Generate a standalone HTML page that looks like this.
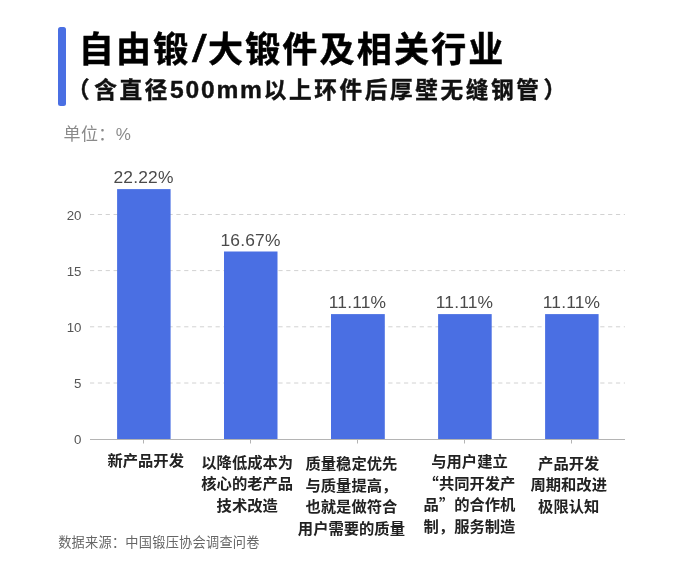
<!DOCTYPE html>
<html lang="zh-CN">
<head>
<meta charset="utf-8">
<title>自由锻/大锻件及相关行业</title>
<style>
html,body{margin:0;padding:0;background:#fff;}
body{width:690px;height:568px;position:relative;overflow:hidden;
  font-family:"Liberation Sans","Noto Sans CJK SC",sans-serif;color:#000;}
.abs{position:absolute;white-space:nowrap;line-height:1;}
#accent{position:absolute;left:58.2px;top:27.4px;width:7.8px;height:78.4px;border-radius:2.5px;background:#4a6fe3;}
#title{left:78.8px;top:32px;font-size:35px;font-weight:700;-webkit-text-stroke:0.5px #000;letter-spacing:2.2px;color:#000;}
.sl{display:inline-block;font-family:"Liberation Sans",sans-serif;font-weight:400;font-size:39px;line-height:0;letter-spacing:0;transform:scaleX(1.35);margin:0 2.9px 0 3.8px;}
.cq{font-family:"Noto Sans CJK SC",sans-serif;line-height:0;}
#sub{left:69px;top:77.5px;font-size:22.6px;font-weight:700;-webkit-text-stroke:0.4px #111;letter-spacing:2.65px;color:#111;}
#sub .lat{font-size:24.6px;letter-spacing:1.8px;position:relative;top:0.5px;}
#unit{left:63.5px;top:126px;font-size:17px;letter-spacing:0.4px;color:#8a8a8a;}
#src{left:58.2px;top:536px;font-size:13.2px;letter-spacing:0.25px;color:#666;}
.yl{position:absolute;width:30px;text-align:right;left:51.5px;font-size:13.3px;line-height:14px;color:#555;}
.vl{position:absolute;width:107px;text-align:center;font-size:17.4px;line-height:18px;letter-spacing:0.2px;color:#4a4a4a;}
.xl{position:absolute;width:120px;text-align:center;font-size:15.3px;line-height:21.6px;font-weight:700;color:#222;white-space:nowrap;}
svg{position:absolute;left:0;top:0;}
</style>
</head>
<body>
<div id="accent"></div>
<div id="title" class="abs">自由锻<span class="sl">/</span>大锻件及相关行业</div>
<div id="sub" class="abs"><span class="cq" style="margin-left:-2px;margin-right:2px">（</span>含直径<span class="lat">500mm</span>以上环件后厚壁无缝钢管<span class="cq" style="margin-left:2px">）</span></div>
<div id="unit" class="abs">单位：%</div>

<svg width="690" height="568" viewBox="0 0 690 568">
  <g stroke="#d2d2d2" stroke-width="1" stroke-dasharray="4.2 3.65" fill="none">
    <line x1="90" y1="214.5" x2="625" y2="214.5"/>
    <line x1="90" y1="270.6" x2="625" y2="270.6"/>
    <line x1="90" y1="326.8" x2="625" y2="326.8"/>
    <line x1="90" y1="383" x2="625" y2="383"/>
  </g>
  <g fill="#4a6fe3">
    <rect x="117.1" y="189.1" width="53.5" height="250.4"/>
    <rect x="224" y="251.5" width="53.5" height="188"/>
    <rect x="331" y="314.1" width="53.8" height="125.4"/>
    <rect x="438.1" y="314.1" width="53.6" height="125.4"/>
    <rect x="545.1" y="314.1" width="53.5" height="125.4"/>
  </g>
  <g stroke="#b4b4b4" stroke-width="1" fill="none">
    <line x1="90" y1="439.5" x2="625" y2="439.5"/>
    <line x1="143.5" y1="439.5" x2="143.5" y2="443.5"/>
    <line x1="250.5" y1="439.5" x2="250.5" y2="443.5"/>
    <line x1="357.5" y1="439.5" x2="357.5" y2="443.5"/>
    <line x1="464.5" y1="439.5" x2="464.5" y2="443.5"/>
    <line x1="571.5" y1="439.5" x2="571.5" y2="443.5"/>
  </g>
</svg>

<div class="yl" style="top:208.5px">20</div>
<div class="yl" style="top:264.5px">15</div>
<div class="yl" style="top:320.5px">10</div>
<div class="yl" style="top:376.5px">5</div>
<div class="yl" style="top:433.3px">0</div>

<div class="vl" style="left:90px;top:168px">22.22%</div>
<div class="vl" style="left:197px;top:231px">16.67%</div>
<div class="vl" style="left:304px;top:293px">11.11%</div>
<div class="vl" style="left:411px;top:293px">11.11%</div>
<div class="vl" style="left:518px;top:293px">11.11%</div>

<div class="xl" style="left:85.7px;top:449.7px">新产品开发</div>
<div class="xl" style="left:187.2px;top:451.9px">以降低成本为<br>核心的老产品<br>技术改造</div>
<div class="xl" style="left:291.4px;top:453.1px">质量稳定优先<br>与质量提高，<br>也就是做符合<br>用户需要的质量</div>
<div class="xl" style="left:409.5px;top:451.1px">与用户建立<br><span class="cq">“</span>共同开发产<br>品<span class="cq">”</span>的合作机<br>制，服务制造</div>
<div class="xl" style="left:508.7px;top:452.7px">产品开发<br>周期和改进<br>极限认知</div>

<div id="src" class="abs">数据来源：中国锻压协会调查问卷</div>
</body>
</html>
